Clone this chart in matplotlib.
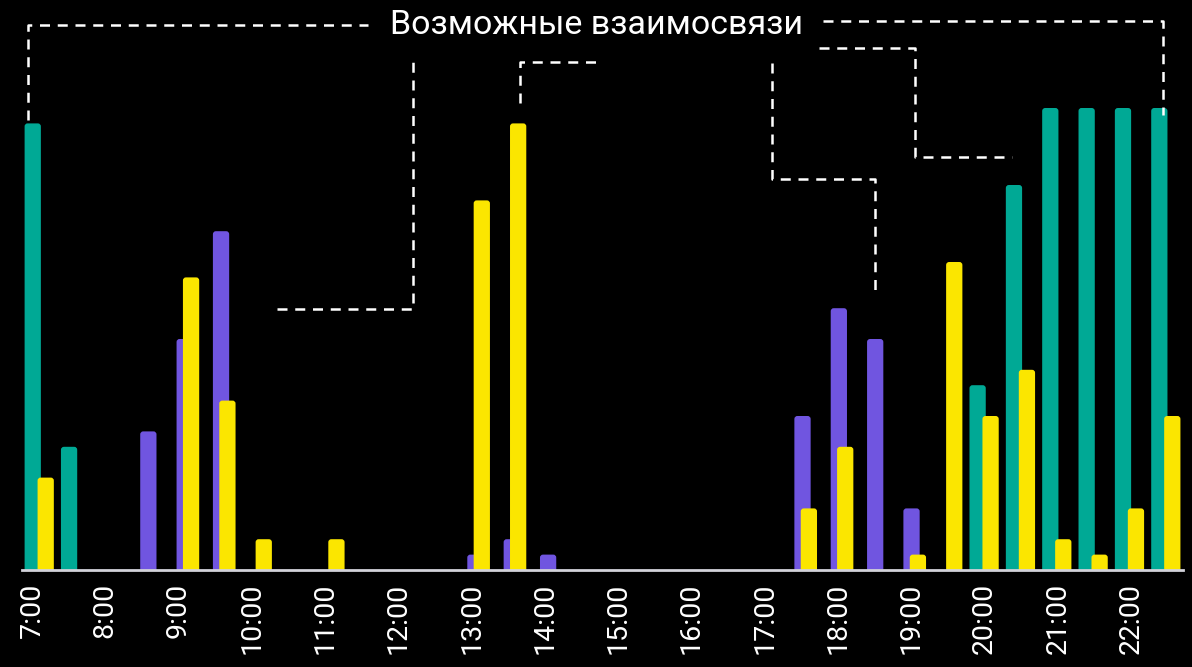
import matplotlib
matplotlib.use("Agg")
import matplotlib.pyplot as plt
from matplotlib.patches import FancyBboxPatch

# ---------------- data ----------------
tick_labels = ["7:00", "8:00", "9:00", "10:00", "11:00", "12:00", "13:00", "14:00",
               "15:00", "16:00", "17:00", "18:00", "19:00", "20:00", "21:00", "22:00"]

teal_times = ["7:00", "7:30", "20:00", "20:30", "21:00", "21:30", "22:00", "22:30"]
teal_values = [29, 8, 12, 25, 30, 30, 30, 30]

purple_times = ["8:30", "9:00", "9:30", "13:00", "13:30", "14:00", "17:30", "18:00", "18:30", "19:00"]
purple_values = [9, 15, 22, 1, 2, 1, 10, 17, 15, 4]

yellow_times = ["7:00", "9:00", "9:30", "10:00", "11:00", "13:00", "13:30", "17:30", "18:00",
                "19:00", "19:30", "20:00", "20:30", "21:00", "21:30", "22:00", "22:30"]
yellow_values = [6, 19, 11, 2, 2, 24, 29, 4, 8, 1, 20, 10, 13, 2, 1, 4, 10]

title = "Возможные взаимосвязи"

# connector paths (x in hours, y in value units)
connectors = [
    [(6.945, 29.2), (6.945, 35.39), (11.586, 35.39)],
    [(17.796, 35.65), (22.436, 35.65), (22.436, 29.55)],
    [(10.344, 16.95), (12.200, 16.95), (12.200, 32.99)],
    [(13.660, 30.32), (13.660, 32.99), (14.752, 32.99)],
    [(17.100, 32.92), (17.100, 25.39), (18.505, 25.39), (18.505, 17.79)],
    [(17.741, 33.90), (19.051, 33.90), (19.051, 26.82), (20.375, 26.82)],
]

# ---------------- style ----------------
TEAL = "#00A995"
PURPLE = "#7055E0"
YELLOW = "#FBE600"
BG = "#000000"
FONT = ["Roboto", "DejaVu Sans"]

W, H, DPI = 1192, 667, 100
fig = plt.figure(figsize=(W / DPI, H / DPI), dpi=DPI, facecolor=BG)
ax = fig.add_axes([0, 97 / H, 1, 570 / H])
ax.set_facecolor(BG)

PX_PER_H = 73.27
PX_PER_U = 15.4
x0 = 7 - 32 / PX_PER_H
ax.set_xlim(x0, x0 + W / PX_PER_H)
ax.set_ylim(0, 570 / PX_PER_U)


def hours(t):
    h, m = t.split(":")
    return int(h) + int(m) / 60


def bar_x(t, off):
    return 7.01 + 0.992 * (hours(t) - 7) + off


BAR_W = 0.222
r_x = 3 / PX_PER_H
aspect = (3 / PX_PER_U) / r_x


def rounded_bars(times, values, off, color, z):
    xs = [bar_x(t, off) for t in times]
    bars = ax.bar(xs, values, width=BAR_W, color=color, zorder=z)
    for p in list(bars):
        x, y = p.get_x(), p.get_y()
        w, h = p.get_width(), p.get_height()
        p.set_visible(False)
        fp = FancyBboxPatch((x, y - 1.0), w, h + 1.0,
                            boxstyle=f"round,pad=0,rounding_size={r_x}",
                            mutation_aspect=aspect, facecolor=color,
                            edgecolor="none", zorder=z)
        ax.add_patch(fp)


rounded_bars(teal_times, teal_values, 0.0, TEAL, 2)
rounded_bars(purple_times, purple_values, 0.09, PURPLE, 3)
rounded_bars(yellow_times, yellow_values, 0.177, YELLOW, 4)

# connectors
for path in connectors:
    xs = [p[0] for p in path]
    ys = [p[1] for p in path]
    ax.plot(xs, ys, color="white", lw=1.8, linestyle=(0, (4.0, 3.1)),
            clip_on=False, zorder=5, solid_capstyle="butt", dash_capstyle="butt")

# axes styling
for s in ["left", "right", "top"]:
    ax.spines[s].set_visible(False)
ax.spines["bottom"].set_color("#D2D2DA")
ax.spines["bottom"].set_linewidth(2.0)
ax.spines["bottom"].set_zorder(6)
ax.spines["bottom"].set_bounds(7 + (22 - 32) / PX_PER_H, 7 + (1183 - 32) / PX_PER_H)
ax.set_yticks([])
ax.set_xticks([hours(t) for t in tick_labels])
ax.set_xticklabels(tick_labels, rotation=90, fontsize=20.5, color="white",
                   family=FONT, va="top", ha="center")
ax.tick_params(axis="x", length=0, pad=9)

fig.text(596 / W, 1 - 34 / H, title, color="white", fontsize=24.5, family=FONT,
         ha="center", va="baseline")

fig.savefig("out.png", dpi=DPI, facecolor=BG)
